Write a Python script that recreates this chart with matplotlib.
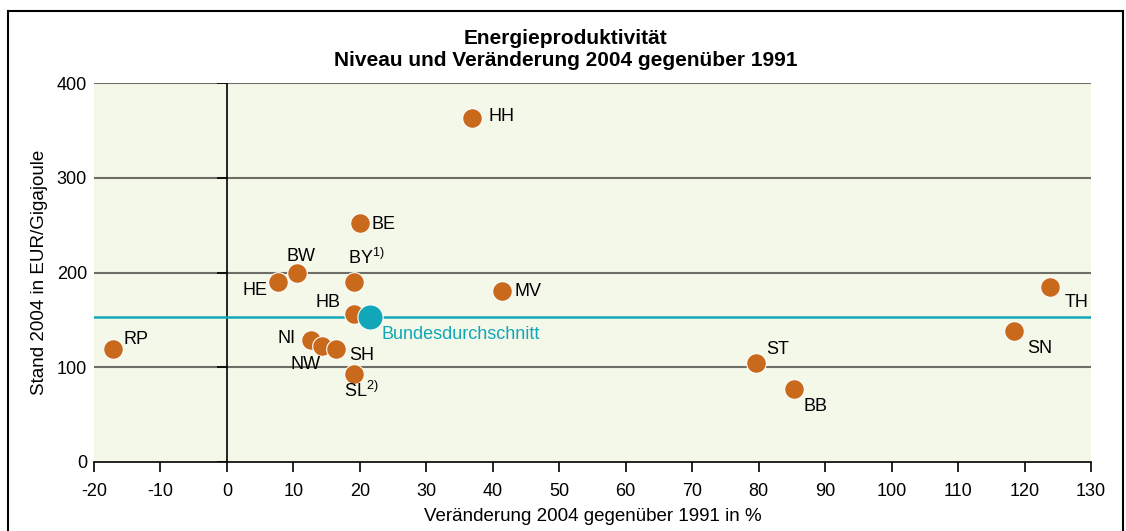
import matplotlib
matplotlib.use('Agg')
import matplotlib.pyplot as plt
from matplotlib.patches import Rectangle

plt.rcParams['font.family'] = ['Liberation Sans', 'DejaVu Sans']
plt.rcParams['mathtext.fontset'] = 'custom'
plt.rcParams['mathtext.rm'] = 'Liberation Sans'
plt.rcParams['mathtext.it'] = 'Liberation Sans'
plt.rcParams['axes.unicode_minus'] = False

laender = ['RP', 'HE', 'BW', 'BY', 'BE', 'HH', 'MV', 'HB', 'NI', 'NW', 'SH', 'SL', 'ST', 'BB', 'SN', 'TH']
veraenderung = [-17.2, 7.7, 10.5, 19.1, 20.0, 36.9, 41.4, 19.1, 12.6, 14.3, 16.4, 19.1, 79.6, 85.3, 118.4, 123.8]
stand = [119, 190, 200, 190, 252, 363, 180, 156, 129, 122, 119, 93, 104, 77, 138, 185]
labels = ['RP', 'HE', 'BW', r'BY$^{\mathrm{1)}}$', 'BE', 'HH', 'MV', 'HB', 'NI', 'NW', 'SH',
          r'SL$^{\mathrm{2)}}$', 'ST', 'BB', 'SN', 'TH']
bund_x, bund_y = 21.5, 153

# label offsets in pixels (dx, dy, ha)
offs = {
    'RP': (11, 10, 'left'), 'HE': (-11, -9, 'right'), 'BW': (4, 16, 'center'),
    'BY': (-6, 24, 'left'), 'BE': (12, -1, 'left'), 'HH': (16, 2, 'left'),
    'MV': (12, 0, 'left'), 'HB': (-13, 12, 'right'), 'NI': (-15, 1, 'right'),
    'NW': (-16, -18, 'center'), 'SH': (13, -6, 'left'), 'SL': (-10, -17, 'left'),
    'ST': (10, 14, 'left'), 'BB': (10, -17, 'left'), 'SN': (13, -17, 'left'),
    'TH': (15, -16, 'left'),
}

orange = '#C8691C'
blue = '#12A6B9'
fs = 13

fig = plt.figure(figsize=(11.26, 5.31), dpi=100)
fig.patches.append(Rectangle((8 / 1126, -0.1), 1115 / 1126, (531 - 11) / 531 + 0.1,
                             transform=fig.transFigure, fill=False, lw=1.5, ec='black'))
ax = fig.add_axes([94 / 1126, (531 - 462) / 531, (1091 - 94) / 1126, (462 - 83) / 531])
ax.set_facecolor('#F4F8E9')
ax.set_xlim(-20, 130)
ax.set_ylim(0, 400)

for y in [100, 200, 300, 400]:
    ax.axhline(y, color='#6E6E66', lw=1.5, zorder=1)
ax.axvline(0, color='black', lw=1.2, zorder=2)
# tick marks on the zero line
ax.hlines([0, 100, 200, 300, 400], -1.5, 0, color='black', lw=1.2, zorder=2)
ax.axhline(bund_y, color=blue, lw=1.8, zorder=2)

ax.scatter(veraenderung, stand, s=200, color=orange, edgecolor='white', lw=0.8, zorder=3)
ax.scatter([bund_x], [bund_y], s=330, color=blue, edgecolor='white', lw=0.8, zorder=4)

for name, lab, x, y in zip(laender, labels, veraenderung, stand):
    dx, dy, ha = offs[name]
    ax.annotate(lab, (x, y), xytext=(dx, dy), textcoords='offset pixels',
                ha=ha, va='center', fontsize=fs, zorder=5)
ax.annotate('Bundesdurchschnitt', (bund_x, bund_y), xytext=(12, -17), textcoords='offset pixels',
            ha='left', va='center', fontsize=fs, color=blue, zorder=5)

for s in ['top', 'right', 'left']:
    ax.spines[s].set_visible(False)
ax.spines['bottom'].set_linewidth(1.2)
ax.set_xticks(range(-20, 131, 10))
ax.set_yticks([0, 100, 200, 300, 400])
ax.tick_params(axis='x', length=7, width=1.2, labelsize=fs, pad=8)
ax.tick_params(axis='y', length=0, labelsize=fs, pad=5)
ax.set_xlabel('Veränderung 2004 gegenüber 1991 in %', fontsize=13.5, labelpad=6)
ax.set_ylabel('Stand 2004 in EUR/Gigajoule', fontsize=13.5, labelpad=6)

fig.text(566 / 1126, 1 - 38 / 531, 'Energieproduktivität', ha='center', va='center',
         fontsize=15, fontweight='bold')
fig.text(566 / 1126, 1 - 60 / 531, 'Niveau und Veränderung 2004 gegenüber 1991', ha='center',
         va='center', fontsize=15, fontweight='bold')

fig.savefig('out.png', dpi=100)
